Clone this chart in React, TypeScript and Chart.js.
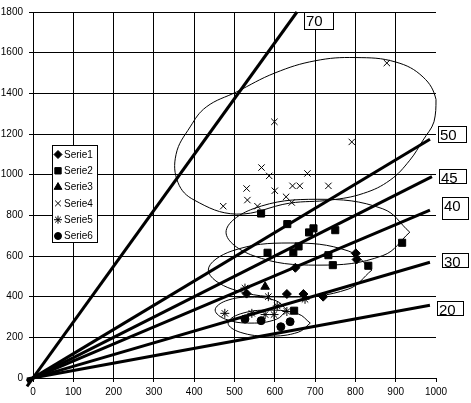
import { useEffect, useRef } from "react";
import { Chart, registerables } from "chart.js";
import { drawPoint } from "chart.js/helpers";

Chart.register(...registerables);

// marker series (x, y)
const seriesNames = ["Serie1", "Serie2", "Serie3", "Serie4", "Serie5", "Serie6"];
const serie1 = [[530, 415], [630, 413], [671, 413], [720, 400], [651, 542], [801, 613], [803, 583]];
const serie2 = [[566, 809], [631, 757], [696, 736], [685, 716], [750, 727], [916, 665], [582, 616],
  [646, 618], [659, 647], [733, 604], [744, 555], [832, 552], [648, 331]];
const serie3 = [[576, 449]];
const serie4 = [[599, 1260], [567, 1035], [586, 994], [681, 1006], [530, 932], [600, 921], [644, 945],
  [662, 945], [733, 945], [532, 875], [628, 891], [642, 863], [472, 845], [557, 845], [878, 1549], [791, 1161]];
const serie5 = [[526, 442], [584, 400], [675, 387], [606, 354], [476, 318], [543, 318], [576, 312], [598, 312], [630, 327]];
const serie6 = [[526, 290], [566, 282], [615, 252], [638, 277]];

// outlines drawn round the clusters
const ellipseA = [[968, 1170], [995, 1260], [1000, 1370], [968, 1480], [900, 1554], [800, 1576], [700, 1560],
  [600, 1500], [505, 1407], [430, 1333], [390, 1235], [355, 1100], [360, 960], [400, 875], [505, 806],
  [637, 860], [737, 875], [820, 908], [886, 973], [935, 1071], [968, 1170]];
const ellipseB = [[935, 717], [868, 832], [707, 879], [546, 832], [479, 717], [546, 602], [707, 555], [868, 602], [935, 717]];
const ellipseC = [[841, 531], [782, 625], [638, 664], [494, 625], [435, 531], [494, 437], [638, 398], [782, 437], [841, 531]];
const ellipseD = [[630, 334], [604, 379], [541, 398], [478, 379], [452, 334], [478, 289], [541, 270], [604, 289], [630, 334]];
const ellipseE = [[688, 270], [658, 315], [586, 334], [514, 315], [484, 270], [514, 225], [586, 206], [658, 225], [688, 270]];

// angle lines from the origin
const lineLabels = ["20", "30", "40", "45", "50", "70"];
const lineStarts = [[-15, -5], [-15, -9], [-15, -13], [-15, -15], [-15, -18], [-15, -41]];
const lineEnds = [[985, 358], [985, 569], [985, 826], [990, 990], [985, 1174], [655, 1800]];
const labelX = [1003, 1016, 1016, 1008, 1006, 672];
const labelY = [380, 616, 888, 1030, 1238, 1800];

const pointStyles = ["rectRot", "rect", "triangle", "crossRot", "star", "circle"];
const pointSizes = [4.5, 5, 5, 4.5, 4.5, 4];
const boxSizes = [[26, 14], [26, 14], [26, 22], [27, 14], [28, 16], [29, 17]];

const toXY = (pts) => pts.map(([x, y]) => ({ x, y }));

// boxed angle labels next to the line ends
const labelBoxes = {
  id: "labelBoxes",
  afterDraw(chart) {
    const { ctx, scales } = chart;
    ctx.save();
    ctx.font = '15px "Liberation Sans Narrow", "Liberation Sans", Arial';
    ctx.textBaseline = "alphabetic";
    ctx.textAlign = "left";
    lineLabels.forEach((txt, i) => {
      const px = Math.round(scales.x.getPixelForValue(labelX[i]));
      const py = Math.round(scales.y.getPixelForValue(labelY[i]));
      const [w, h] = boxSizes[i];
      ctx.fillStyle = "#000000";
      ctx.fillRect(px, py, w + 1, h + 1);
      ctx.fillStyle = "#ffffff";
      ctx.fillRect(px + 1, py + 1, w - 1, h - 1);
      ctx.fillStyle = "#000000";
      ctx.fillText(txt, px + 2, py + 13.5);
    });
    ctx.restore();
  },
};

const boxLegend = {
  id: "boxLegend",
  afterDraw(chart) {
    const { ctx, chartArea } = chart;
    const left = Math.round(chartArea.left + 19);
    const top = Math.round(chartArea.top + 133);
    ctx.save();
    ctx.fillStyle = "#fff";
    ctx.fillRect(left, top, 45, 97);
    ctx.strokeStyle = "#000";
    ctx.lineWidth = 1;
    ctx.strokeRect(left + 0.5, top + 0.5, 45, 97);
    ctx.font = '10px "Liberation Sans", Arial';
    ctx.textBaseline = "middle";
    seriesNames.forEach((name, i) => {
      const cy = top + 9.5 + i * 16.3;
      ctx.fillStyle = "#000";
      ctx.strokeStyle = "#000";
      ctx.lineWidth = 1;
      drawPoint(ctx, { pointStyle: pointStyles[i], radius: pointSizes[i] - 0.5, rotation: 0, borderWidth: 1 }, left + 6, cy);
      ctx.fillStyle = "#000";
      ctx.fillText(name, left + 12, cy + 0.5);
    });
    ctx.restore();
  },
};

export default function App() {
  const chartRef = useRef(null);

  useEffect(() => {
    Chart.defaults.font.family = '"Liberation Sans", Arial, sans-serif';
    Chart.defaults.font.size = 10;
    Chart.defaults.color = "#000";

    const markers = [serie1, serie2, serie3, serie4, serie5, serie6].map((pts, i) => ({
      label: seriesNames[i],
      data: toXY(pts),
      showLine: false,
      pointStyle: pointStyles[i],
      pointRadius: pointSizes[i],
      pointBorderWidth: 1,
      pointBackgroundColor: "#000",
      pointBorderColor: "#000",
      clip: false,
    }));
    const outlines = [ellipseA, ellipseB, ellipseC, ellipseD, ellipseE].map((pts) => ({
      data: toXY(pts),
      showLine: true,
      tension: 0.4,
      borderColor: "#000",
      borderWidth: 1,
      pointRadius: 0,
      clip: false,
    }));
    const rays = lineStarts.map((s, i) => ({
      data: toXY([s, lineEnds[i]]),
      showLine: true,
      borderColor: "#000",
      borderWidth: 3,
      pointRadius: 0,
      clip: false,
    }));

    const chart = new Chart(chartRef.current, {
      type: "scatter",
      data: { datasets: [...markers, ...outlines, ...rays] },
      options: {
        animation: false,
        responsive: true,
        maintainAspectRatio: false,
        events: [],
        layout: { padding: { top: 9, right: 35, left: 0, bottom: 0 } },
        plugins: { legend: { display: false }, tooltip: { enabled: false } },
        scales: {
          x: {
            min: 0,
            max: 1000,
            ticks: { stepSize: 100, padding: 4, callback: (v) => String(v) },
            grid: {
              color: (c) => (c.tick && c.tick.value === 1000 ? "rgba(0,0,0,0)" : "#000"),
              tickColor: "#000",
              tickLength: 4,
            },
            border: { color: "#000", width: 1 },
            afterFit: (s) => { s.height = 25; },
          },
          y: {
            min: 0,
            max: 1800,
            ticks: { stepSize: 200, padding: 6, callback: (v) => String(v) },
            grid: { color: "#000", tickColor: "#000", tickLength: 4 },
            border: { color: "#000", width: 1 },
            afterFit: (s) => { s.width = 33; },
          },
        },
      },
      plugins: [labelBoxes, boxLegend],
    });

    return () => {
      chart.destroy();
    };
  }, []);

  return (
    <div style={{ position: "absolute", left: 0, top: 0, width: 471, height: 403, background: "#fff" }}>
      <canvas ref={chartRef} />
    </div>
  );
}
